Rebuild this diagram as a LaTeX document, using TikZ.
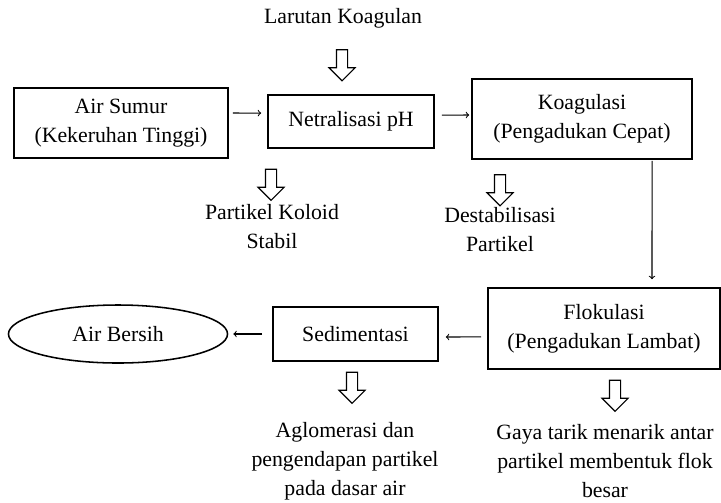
\documentclass[tikz,border=0pt]{standalone}
\usepackage{fontspec}
\setmainfont{Liberation Serif}
\usetikzlibrary{shapes.geometric,shapes.arrows}

\begin{document}
\begin{tikzpicture}[x=0.025cm, y=-0.025cm,
    every node/.style={font=\fontsize{15.5}{20.6}\selectfont, align=center},
    procbox/.style={draw, rectangle, line width=1.1pt, inner sep=0pt},
    downarrow/.style={draw, single arrow, shape border rotate=270, line width=0.8pt, inner sep=0.125cm, single arrow head extend=0.1875cm, minimum height=0.775cm},
    flow/.style={->, line width=0.75pt}]
    \useasboundingbox (0,0) rectangle (721,502);

    \node (koagulan) at (343,18) {Larutan Koagulan};
    \node[downarrow] (inkoag) at (342,62.5) {};

    \node[procbox, minimum width=5.35cm, minimum height=1.75cm] (sumur) at (121,123) {Air Sumur\\(Kekeruhan Tinggi)};
    \node[procbox, minimum width=4.15cm, minimum height=1.325cm] (netral) at (351,121.5) {Netralisasi pH};
    \node[procbox, minimum width=5.5cm, minimum height=2cm] (koag) at (582,119) {Koagulasi\\(Pengadukan Cepat)};
    \node[procbox, minimum width=5.8cm, minimum height=2.025cm] (flok) at (604,328.5) {Flokulasi\\(Pengadukan Lambat)};
    \node[procbox, minimum width=4.125cm, minimum height=1.35cm] (sedim) at (355.5,334) {Sedimentasi};
    \node[draw, ellipse, line width=1.1pt, inner sep=0pt, minimum width=5.475cm, minimum height=1.45cm] (bersih) at (118,334) {Air Bersih};

    \node[downarrow] (outsumur) at (271,182) {};
    \node (koloid) at (272,227) {Partikel Koloid\\Stabil};
    \node[downarrow] (outkoag) at (500,187.5) {};
    \node (destab) at (500,230) {Destabilisasi\\Partikel};
    \node[downarrow] (outsedim) at (352,385) {};
    \node (aglom) at (345,461) {Aglomerasi dan\\pengendapan partikel\\pada dasar air};
    \node[downarrow] (outflok) at (615,393) {};
    \node (gaya) at (605,461) {Gaya tarik menarik antar\\partikel membentuk flok\\besar};

    \draw[flow] ([xshift=0.1cm, yshift=0.25cm]sumur.east) -- ([xshift=-0.15cm, yshift=0.21cm]netral.west);
    \draw[flow] ([xshift=0.175cm, yshift=0.16cm]netral.east) -- ([xshift=-0.05cm, yshift=0.1cm]koag.west);
    \draw[flow] ([xshift=1.75cm, yshift=-0.025cm]koag.south) -- ([xshift=1.2cm, yshift=0.2cm]flok.north);
    \draw[flow] ([xshift=-0.15cm, yshift=-0.21cm]flok.west) -- ([xshift=0.175cm, yshift=-0.075cm]sedim.east);
    \draw[flow] ([xshift=-0.25cm]sedim.west) -- ([xshift=0.125cm]bersih.east);
\end{tikzpicture}
\end{document}
